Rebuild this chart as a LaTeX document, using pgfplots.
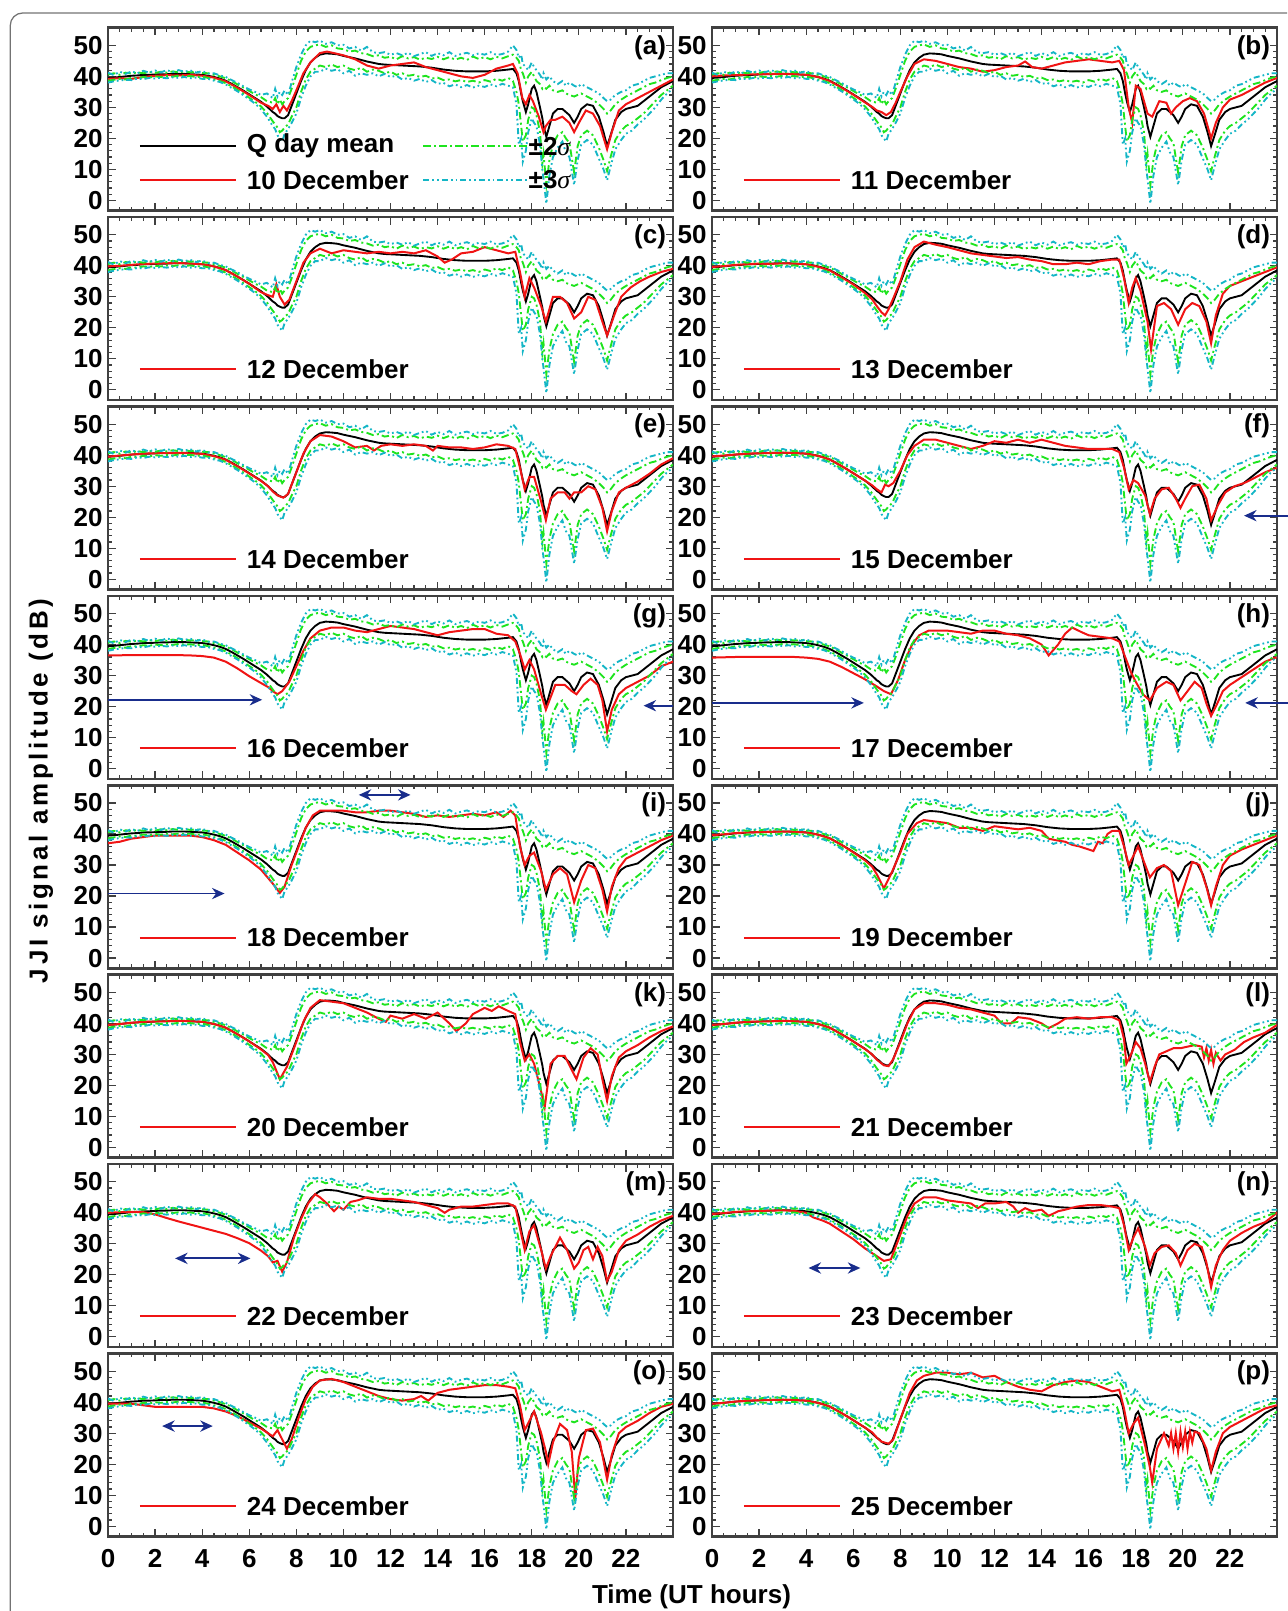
\documentclass[border=0pt]{standalone}
\usepackage{pgfplots}
\pgfplotsset{compat=1.18}
\usepackage{pgfplotstable}
\usepackage{fontspec}
\setmainfont{Liberation Sans}
\newfontfamily\sigmafont{Liberation Serif}
\newfontfamily\spacedfont{Liberation Sans}[LetterSpace=14]
\usetikzlibrary{arrows.meta}

\definecolor{dayred}{RGB}{240,20,20}
\definecolor{sdgreen}{RGB}{30,228,30}
\definecolor{sdcyan}{RGB}{20,182,198}
\definecolor{arrowblue}{RGB}{25,45,140}

% Quiet-day statistics: mean, +-2 sigma, +-3 sigma (dB) versus UT hour
\pgfplotstableread{
t     m     u2    l2    u3    l3
0.00  39.5  40.6  38.6  41.2  38.0
0.25  39.6  41.0  38.9  40.4  38.4
0.50  39.8  40.5  39.2  41.5  38.7
0.75  40.0  41.2  39.0  40.8  38.9
1.00  40.2  40.9  39.5  41.6  38.8
1.25  40.3  41.3  39.4  41.0  39.3
1.50  40.5  41.0  39.8  41.8  39.1
1.75  40.5  41.4  39.6  41.2  39.5
2.00  40.6  41.1  40.0  41.9  39.3
2.25  40.7  41.5  39.8  41.3  39.6
2.50  40.7  41.2  40.1  42.0  39.4
2.75  40.8  41.6  39.9  41.4  39.7
3.00  40.8  41.3  40.2  42.0  39.5
3.25  40.8  41.6  40.0  41.5  39.8
3.50  40.7  41.3  40.1  41.9  39.4
3.75  40.6  41.5  39.8  41.2  39.6
4.00  40.5  41.1  39.9  41.7  39.2
4.25  40.2  41.0  39.5  40.9  39.2
4.50  39.8  40.5  39.0  41.0  38.6
4.75  39.3  40.0  38.5  40.3  38.2
5.00  38.6  39.4  37.8  39.8  37.4
5.25  37.6  38.5  36.8  38.8  36.3
5.50  36.5  37.4  35.6  37.9  35.2
5.75  35.4  36.4  34.4  36.8  33.9
6.00  34.2  35.3  33.1  35.8  32.6
6.25  33.0  34.2  31.8  35.0  31.2
6.50  31.8  33.3  30.3  34.0  29.4
6.75  30.3  32.0  28.2  34.5  27.0
7.00  28.5  31.5  25.5  33.0  24.0
7.10  28.0  33.0  24.5  36.0  23.0
7.20  27.2  31.0  23.5  33.5  21.0
7.30  26.8  32.5  22.0  35.0  20.0
7.40  26.5  31.0  22.5  34.0  19.0
7.50  26.5  32.0  23.5  35.5  21.5
7.65  27.5  33.0  24.5  34.0  23.0
7.80  30.5  36.0  27.0  38.0  25.0
8.00  34.5  40.5  30.0  43.0  28.0
8.20  38.5  45.0  35.0  47.0  33.0
8.40  42.0  48.0  39.0  50.0  37.0
8.60  44.5  49.5  41.5  51.5  40.0
8.80  46.0  50.0  42.5  51.0  41.5
9.00  47.0  50.3  43.5  51.5  41.5
9.25  47.4  49.5  43.0  50.5  42.5
9.50  47.3  50.0  43.8  51.0  41.8
9.75  47.1  49.0  43.0  50.0  42.3
10.00 46.6  48.8  43.5  50.2  41.0
10.25 46.2  48.0  42.5  49.0  41.8
10.50 45.8  48.3  42.0  49.5  40.2
10.75 45.3  47.5  42.8  48.3  41.0
11.00 44.8  47.2  41.5  49.5  40.5
11.25 44.4  46.5  42.2  47.8  41.0
11.50 44.0  46.8  41.8  47.5  40.0
11.75 43.8  46.0  41.0  47.8  40.8
12.00 43.7  46.3  41.5  47.0  39.8
12.25 43.6  45.5  40.5  47.5  40.2
12.50 43.5  46.5  41.0  46.8  39.0
12.75 43.4  45.8  40.2  47.6  39.5
13.00 43.3  46.2  40.5  46.5  38.6
13.25 43.2  45.4  39.8  47.2  39.2
13.50 43.0  46.0  40.2  47.8  38.2
13.75 42.8  45.6  39.3  46.6  38.8
14.00 42.5  46.3  39.6  47.5  37.6
14.25 42.2  45.5  38.8  46.8  37.9
14.50 42.0  46.2  39.0  47.8  36.8
14.75 41.8  45.4  38.4  46.6  37.4
15.00 41.7  46.0  38.8  47.2  36.5
15.25 41.6  45.3  38.2  47.6  37.2
15.50 41.6  46.4  38.6  46.8  36.4
15.75 41.6  45.6  38.0  47.4  37.0
16.00 41.6  46.2  38.8  47.0  36.6
16.25 41.7  45.5  38.3  47.8  37.4
16.50 41.8  46.3  39.2  46.9  36.8
16.75 42.0  45.8  38.6  47.2  37.6
17.00 42.2  46.5  39.5  48.0  37.0
17.20 42.4  47.0  38.5  50.0  36.5
17.35 41.0  46.0  35.0  48.5  31.0
17.45 38.5  45.0  31.0  46.0  18.0
17.55 34.5  42.0  24.0  47.0  20.0
17.62 32.0  41.0  19.0  44.0  12.5
17.75 28.5  38.0  21.0  43.0  16.0
17.85 31.0  40.0  26.0  42.0  22.0
18.00 36.0  41.5  30.0  44.5  26.5
18.10 37.0  40.0  29.5  43.0  25.0
18.20 35.0  38.5  27.5  42.0  24.0
18.35 30.0  37.5  22.0  40.5  18.0
18.45 26.5  36.0  12.0  39.0  10.0
18.50 24.0  36.5  15.0  41.0  7.0
18.62 20.5  36.0  5.0   39.0  -1.0
18.75 24.0  37.0  13.0  40.0  8.0
18.90 28.0  35.5  18.0  38.5  14.0
19.10 29.5  35.0  21.0  37.5  17.0
19.30 29.5  35.5  22.0  38.5  19.0
19.45 28.5  34.5  20.0  37.0  15.5
19.60 27.5  34.0  18.5  38.0  14.0
19.80 25.0  33.5  9.0   37.0  5.0
19.95 27.0  34.0  17.5  36.5  13.0
20.10 29.5  34.5  21.0  37.5  18.0
20.35 31.0  33.5  22.5  36.5  19.5
20.60 30.5  32.5  21.0  35.5  18.0
20.85 27.0  31.0  17.0  34.5  13.5
21.05 22.0  29.5  13.0  33.0  10.0
21.20 17.5  28.0  9.5   32.0  6.5
21.35 21.0  29.0  14.0  32.5  11.0
21.55 26.0  31.0  19.5  34.0  16.5
21.80 28.5  32.5  22.5  35.0  19.5
22.00 29.5  33.5  24.0  35.5  21.5
22.25 30.0  34.5  25.0  37.0  22.5
22.50 30.5  35.5  26.5  37.5  24.5
22.75 32.0  36.5  28.0  38.5  26.0
23.00 33.5  37.5  30.0  39.5  28.0
23.25 35.0  38.0  32.0  40.0  30.0
23.50 36.5  38.8  34.0  40.5  32.5
23.75 37.5  39.5  35.5  41.0  34.5
24.00 38.5  40.0  37.0  41.0  36.0
}\qstats

% Daily amplitude, 10--25 December
\pgfplotstableread[row sep=\\]{t v\\ 0 39.2\\ 0.5 39.4\\ 1 39.2\\ 1.5 39.8\\ 2 40.2\\ 2.5 40.4\\ 3 40.3\\ 3.5 40.5\\ 4 40.2\\ 4.5 39.6\\ 5 38.4\\ 5.5 36.3\\ 6 34.0\\ 6.5 31.5\\ 6.8 30.5\\ 7.0 29.5\\ 7.15 31\\ 7.3 28.5\\ 7.45 30.5\\ 7.6 29\\ 7.8 32\\ 8.0 35.5\\ 8.3 41\\ 8.6 44.5\\ 9.0 47.5\\ 9.3 48\\ 9.6 47.5\\ 10 46.8\\ 10.5 45.5\\ 11 43.5\\ 11.5 42.5\\ 12 43.5\\ 12.5 44\\ 13 44.5\\ 13.5 43\\ 14 42\\ 14.5 41\\ 15 40\\ 15.5 39.5\\ 16 40.5\\ 16.5 42.5\\ 17 43.5\\ 17.2 44\\ 17.4 41\\ 17.6 33\\ 17.75 31\\ 17.9 34\\ 18.05 32\\ 18.3 27\\ 18.5 22\\ 18.6 24\\ 18.8 26\\ 19.0 26\\ 19.3 27\\ 19.6 25\\ 19.8 22\\ 20.0 25\\ 20.3 29\\ 20.6 28\\ 20.9 24\\ 21.2 16.5\\ 21.4 22\\ 21.7 29\\ 22 31\\ 22.5 33\\ 23 35\\ 23.5 37\\ 24 39\\}\redA
\pgfplotstableread[row sep=\\]{t v\\ 0 40.0\\ 0.5 40.3\\ 1 40.4\\ 1.5 40.6\\ 2 40.7\\ 2.5 40.8\\ 3 40.8\\ 3.5 40.7\\ 4 40.5\\ 4.5 39.8\\ 5 38.5\\ 5.5 36.4\\ 6 34.1\\ 6.5 31.6\\ 6.8 30.2\\ 7.0 29.0\\ 7.2 28.5\\ 7.4 27.5\\ 7.6 28.5\\ 7.8 31.5\\ 8.0 35\\ 8.3 40\\ 8.6 44\\ 9.0 45.5\\ 9.5 45\\ 10 44\\ 10.5 43\\ 11 42.5\\ 11.5 41.5\\ 12 42\\ 12.5 43\\ 13 43.5\\ 13.3 44.8\\ 13.6 43\\ 14 42.5\\ 14.5 43.5\\ 15 44.5\\ 15.5 45\\ 16 45.5\\ 16.5 45\\ 17 44.5\\ 17.3 45\\ 17.5 42\\ 17.7 30\\ 17.85 25\\ 18.0 37\\ 18.2 36\\ 18.5 28\\ 18.7 27\\ 19.0 32\\ 19.3 31.5\\ 19.5 28\\ 19.7 30\\ 20.0 32\\ 20.3 33\\ 20.6 32\\ 20.9 28\\ 21.2 20\\ 21.4 25\\ 21.7 30\\ 22 32.5\\ 22.5 34\\ 23 36\\ 23.5 38\\ 24 39.5\\}\redB
\pgfplotstableread[row sep=\\]{t v\\ 0 39.8\\ 0.5 40.0\\ 1 40.3\\ 1.5 40.6\\ 2 40.7\\ 2.5 40.8\\ 3 40.9\\ 3.5 40.7\\ 4 40.5\\ 4.5 39.8\\ 5 38.6\\ 5.5 36.5\\ 6 34.2\\ 6.5 31.5\\ 6.8 30.5\\ 7.0 30\\ 7.15 34\\ 7.3 30\\ 7.5 27.5\\ 7.7 29\\ 7.9 33\\ 8.1 37\\ 8.3 41\\ 8.6 44\\ 9.0 45.5\\ 9.5 44\\ 10 45\\ 10.5 44.5\\ 11 44\\ 11.5 44.5\\ 12 44\\ 12.5 44.5\\ 13 44\\ 13.5 45\\ 14 43\\ 14.3 41\\ 14.6 42\\ 15 44\\ 15.5 44.5\\ 16 46\\ 16.5 45\\ 17 44\\ 17.3 44.5\\ 17.5 38\\ 17.7 30\\ 17.9 36\\ 18.1 33\\ 18.4 27\\ 18.6 22\\ 18.9 30\\ 19.2 30\\ 19.5 28\\ 19.8 23\\ 20.1 25\\ 20.4 30\\ 20.7 29\\ 21.0 22\\ 21.2 17.5\\ 21.5 24\\ 21.8 30\\ 22.2 33\\ 22.6 35\\ 23 36.5\\ 23.5 38\\ 24 39\\}\redC
\pgfplotstableread[row sep=\\]{t v\\ 0 39.6\\ 0.5 39.9\\ 1 40.3\\ 1.5 40.5\\ 2 40.7\\ 2.5 40.6\\ 3 40.8\\ 3.5 40.7\\ 4 40.5\\ 4.5 39.7\\ 5 38.5\\ 5.5 36.3\\ 6 34.0\\ 6.5 31.2\\ 6.8 29.2\\ 7.0 27.0\\ 7.2 25.0\\ 7.35 24.0\\ 7.5 26.0\\ 7.7 29.5\\ 8.0 35\\ 8.3 42\\ 8.6 46\\ 9.0 47.8\\ 9.5 46.8\\ 10 46\\ 10.5 45\\ 11 44\\ 11.5 43.5\\ 12 43\\ 12.5 42.5\\ 13 42.8\\ 13.5 42\\ 14 41.5\\ 14.5 40.5\\ 15 40.5\\ 15.5 41\\ 16 40.5\\ 16.5 41.5\\ 17 42\\ 17.3 42\\ 17.5 36\\ 17.7 28\\ 17.85 33\\ 18.0 36\\ 18.2 32\\ 18.5 22\\ 18.65 13\\ 18.9 27\\ 19.2 28\\ 19.5 26\\ 19.8 21\\ 20.1 26\\ 20.4 28\\ 20.7 27\\ 21.0 22\\ 21.2 15\\ 21.4 24\\ 21.7 31\\ 22 33.5\\ 22.5 35\\ 23 36.5\\ 23.5 38\\ 24 39.5\\}\redD
\pgfplotstableread[row sep=\\]{t v\\ 0 39.5\\ 0.5 39.9\\ 1 40.2\\ 1.5 40.5\\ 2 40.6\\ 2.5 40.7\\ 3 40.7\\ 3.5 40.6\\ 4 40.4\\ 4.5 39.7\\ 5 38.5\\ 5.5 36.4\\ 6 34.1\\ 6.5 31.7\\ 6.8 30.0\\ 7.0 28.3\\ 7.2 27.0\\ 7.45 26.3\\ 7.65 27.5\\ 7.8 30.5\\ 8.0 34.5\\ 8.3 40.5\\ 8.6 44.5\\ 9.0 46.5\\ 9.5 46\\ 10 44.5\\ 10.5 42.5\\ 11 43\\ 11.3 41.5\\ 11.6 43\\ 12 43.5\\ 12.5 43\\ 13 43.5\\ 13.5 43\\ 13.8 41.5\\ 14 43\\ 14.5 42.5\\ 15 42.5\\ 15.5 42\\ 16 42.5\\ 16.5 43.5\\ 17 43\\ 17.3 42\\ 17.5 36\\ 17.7 29\\ 17.9 33\\ 18.1 33\\ 18.4 25\\ 18.6 19\\ 18.8 26\\ 19.1 28\\ 19.4 28\\ 19.6 26\\ 19.8 28\\ 20.1 28\\ 20.4 30\\ 20.7 29\\ 21.0 23\\ 21.2 15.5\\ 21.4 22\\ 21.7 28\\ 22 29.5\\ 22.5 31.5\\ 23 34\\ 23.5 37\\ 24 39\\}\redE
\pgfplotstableread[row sep=\\]{t v\\ 0 39.6\\ 0.5 39.9\\ 1 40.2\\ 1.5 40.5\\ 2 40.6\\ 2.5 40.7\\ 3 40.8\\ 3.5 40.7\\ 4 40.5\\ 4.5 39.8\\ 5 38.6\\ 5.5 36.5\\ 6 34.2\\ 6.5 31.8\\ 6.8 30.3\\ 7.0 29.0\\ 7.2 28.0\\ 7.35 30.5\\ 7.5 30\\ 7.7 31\\ 8.0 35\\ 8.3 40\\ 8.6 43\\ 9.0 45\\ 9.5 45\\ 10 44\\ 10.5 43\\ 11 42\\ 11.5 43\\ 12 44.5\\ 12.5 44\\ 13 45\\ 13.5 44\\ 14 45\\ 14.5 44\\ 15 43\\ 15.5 42.5\\ 16 42\\ 16.5 42\\ 17 42\\ 17.3 41\\ 17.5 36\\ 17.7 29\\ 17.9 32\\ 18.1 31\\ 18.4 27\\ 18.6 21\\ 18.8 26\\ 19.1 29\\ 19.4 29.5\\ 19.7 26\\ 19.9 23\\ 20.1 26\\ 20.4 30\\ 20.7 30.5\\ 21.0 26\\ 21.2 19\\ 21.5 24\\ 21.8 28\\ 22.2 30\\ 22.6 31\\ 23 32.5\\ 23.5 34.5\\ 24 36\\}\redF
\pgfplotstableread[row sep=\\]{t v\\ 0 36.5\\ 1 36.6\\ 2 36.6\\ 3 36.6\\ 3.5 36.5\\ 4 36.3\\ 4.5 35.8\\ 5 34.5\\ 5.5 32.3\\ 6 29.8\\ 6.5 27.6\\ 6.8 26.3\\ 7.0 25.0\\ 7.2 24.0\\ 7.4 25.0\\ 7.7 28\\ 8.0 33\\ 8.3 38\\ 8.6 42\\ 9.0 44.5\\ 9.5 45.5\\ 10 45.5\\ 10.5 44.5\\ 11 44\\ 11.5 45\\ 12 46\\ 12.5 45.5\\ 13 45\\ 13.5 44\\ 14 43\\ 14.5 44\\ 15 44.5\\ 15.5 45\\ 16 45\\ 16.5 43.5\\ 17 43\\ 17.3 41\\ 17.5 37\\ 17.7 32\\ 17.9 35\\ 18.1 32\\ 18.4 24\\ 18.6 19\\ 18.8 23\\ 19.0 27\\ 19.4 27\\ 19.7 25\\ 19.9 24\\ 20.2 27\\ 20.5 29\\ 20.8 27\\ 21.0 22\\ 21.2 12\\ 21.4 19\\ 21.7 24\\ 22 26\\ 22.5 28\\ 23 30\\ 23.5 33\\ 24 34.5\\}\redG
\pgfplotstableread[row sep=\\]{t v\\ 0 35.8\\ 1 36\\ 2 36\\ 3 36\\ 3.5 36\\ 4 35.8\\ 4.5 35.4\\ 5 34.5\\ 5.5 32.8\\ 6 30.8\\ 6.5 28.8\\ 7.0 26.5\\ 7.3 25.0\\ 7.6 24.0\\ 7.9 28.5\\ 8.2 35\\ 8.5 40\\ 8.8 43\\ 9.2 44.5\\ 10 44.5\\ 10.5 44\\ 11 43.5\\ 11.5 44.5\\ 12 44.5\\ 12.5 43.5\\ 13 43\\ 13.5 42\\ 14 40\\ 14.3 36.5\\ 14.7 40\\ 15 43.5\\ 15.3 45.5\\ 15.7 44\\ 16 43\\ 16.5 42.5\\ 17 42\\ 17.3 41\\ 17.5 37\\ 17.8 31\\ 18.0 28\\ 18.3 24\\ 18.6 22\\ 18.9 26\\ 19.3 28\\ 19.6 27\\ 19.9 22\\ 20.2 25\\ 20.5 28\\ 20.8 26\\ 21.0 21\\ 21.2 17\\ 21.4 20\\ 21.7 25\\ 22 27\\ 22.5 29.5\\ 23 32\\ 23.5 34.5\\ 24 36\\}\redH
\pgfplotstableread[row sep=\\]{t v\\ 0 37\\ 0.5 37.5\\ 1 38.5\\ 1.5 39\\ 2 39.5\\ 3 39.5\\ 3.5 39.5\\ 4 39\\ 4.5 38\\ 5 36.5\\ 5.5 34\\ 6 31.5\\ 6.5 28.5\\ 7.0 24\\ 7.3 21\\ 7.5 23\\ 7.8 30\\ 8.1 36\\ 8.4 42\\ 8.7 46\\ 9.0 47.5\\ 9.5 47.5\\ 10 47.5\\ 10.5 47\\ 11 47\\ 11.5 47.5\\ 12 47.5\\ 12.5 47\\ 13 46.5\\ 13.5 45.5\\ 14 46\\ 14.5 45.5\\ 15 46\\ 15.5 46.5\\ 16 46\\ 16.5 47\\ 16.8 45.5\\ 17.1 47.5\\ 17.3 46\\ 17.5 36\\ 17.7 30\\ 17.9 33\\ 18.1 34\\ 18.4 28\\ 18.6 22\\ 18.9 27\\ 19.2 29\\ 19.5 27\\ 19.8 18\\ 20.1 25\\ 20.4 30\\ 20.7 29\\ 21.0 22\\ 21.2 15\\ 21.4 23\\ 21.7 29\\ 22 32\\ 22.5 34\\ 23 36\\ 23.5 38\\ 24 39.5\\}\redI
\pgfplotstableread[row sep=\\]{t v\\ 0 39.6\\ 0.5 39.9\\ 1 40.3\\ 1.5 40.5\\ 2 40.6\\ 2.5 40.7\\ 3 40.8\\ 3.5 40.7\\ 4 40.5\\ 4.5 39.8\\ 5 38.6\\ 5.5 36.5\\ 6 34.1\\ 6.5 31.5\\ 6.8 29.5\\ 7.0 27\\ 7.3 22.5\\ 7.6 27\\ 8.0 34\\ 8.3 40\\ 8.7 43.5\\ 9 44.5\\ 9.5 44\\ 10 43.5\\ 10.5 42\\ 11 42\\ 11.5 41\\ 12 42.5\\ 12.5 42\\ 13 41.5\\ 13.5 42\\ 14 41\\ 14.3 38.5\\ 14.6 38\\ 15 37.5\\ 15.3 36.5\\ 15.6 36\\ 16 35\\ 16.2 34.5\\ 16.4 37.5\\ 16.6 37\\ 16.8 40\\ 17 41\\ 17.3 41\\ 17.5 36\\ 17.7 30\\ 17.9 33\\ 18.1 36\\ 18.4 30\\ 18.6 26\\ 18.9 29\\ 19.2 30\\ 19.5 28\\ 19.8 17\\ 20.1 24\\ 20.4 31\\ 20.7 30\\ 21.0 23\\ 21.2 17\\ 21.4 23\\ 21.7 30\\ 22 33\\ 22.5 35\\ 23 36.5\\ 23.5 38\\ 24 39.5\\}\redJ
\pgfplotstableread[row sep=\\]{t v\\ 0 39.5\\ 0.5 39.8\\ 1 40.2\\ 1.5 40.5\\ 2 40.6\\ 2.5 40.7\\ 3 40.8\\ 3.5 40.7\\ 4 40.5\\ 4.5 39.8\\ 5 38.6\\ 5.5 36.5\\ 6 34.2\\ 6.5 31.6\\ 6.8 29.8\\ 7.0 27.5\\ 7.3 22\\ 7.6 26\\ 8.0 34\\ 8.3 40.5\\ 8.6 45\\ 9 47.5\\ 9.5 47\\ 10 46.5\\ 10.5 45\\ 11 43.5\\ 11.5 41.5\\ 11.8 40.5\\ 12 42.5\\ 12.5 41.5\\ 13 43\\ 13.5 41.5\\ 14 43.5\\ 14.5 40\\ 14.8 37.5\\ 15.2 40\\ 15.5 43\\ 16 45\\ 16.3 44\\ 16.6 45.5\\ 17 44\\ 17.3 43\\ 17.5 34\\ 17.7 28\\ 17.9 30\\ 18.1 27\\ 18.4 18\\ 18.55 13\\ 18.8 27\\ 19.1 29.5\\ 19.4 29.5\\ 19.7 25\\ 19.9 22\\ 20.2 29\\ 20.5 32\\ 20.8 30\\ 21.0 22\\ 21.2 15\\ 21.4 23\\ 21.7 29\\ 22 31\\ 22.5 33\\ 23 35.5\\ 23.5 37.5\\ 24 39\\}\redK
\pgfplotstableread[row sep=\\]{t v\\ 0 39.5\\ 0.5 39.8\\ 1 40.2\\ 1.5 40.5\\ 2 40.6\\ 2.5 40.7\\ 3 40.8\\ 3.5 40.7\\ 4 40.5\\ 4.5 39.8\\ 5 38.6\\ 5.5 36.5\\ 6 34.2\\ 6.5 31.7\\ 6.8 30\\ 7.0 28.3\\ 7.3 26.5\\ 7.5 26.2\\ 7.7 28.5\\ 8.0 34\\ 8.3 40\\ 8.6 44.5\\ 9 46.5\\ 9.5 46.5\\ 10 46\\ 10.5 45\\ 11 44.5\\ 11.5 43.5\\ 12 42.5\\ 12.3 40\\ 12.7 40\\ 13 42\\ 13.5 41.5\\ 14 40\\ 14.3 38.5\\ 14.7 40\\ 15 41.5\\ 15.5 42\\ 16 41.5\\ 16.5 42\\ 17 42\\ 17.3 41\\ 17.5 35\\ 17.6 27\\ 17.8 30\\ 18.0 34\\ 18.2 32\\ 18.4 27\\ 18.6 21\\ 18.8 26\\ 19.0 30\\ 19.3 31\\ 19.6 32\\ 19.9 32\\ 20.2 32.5\\ 20.5 33\\ 20.8 32.5\\ 20.9 29\\ 21.0 32\\ 21.1 28\\ 21.2 31.5\\ 21.3 27\\ 21.4 30.5\\ 21.6 28\\ 21.8 30\\ 22.2 31.5\\ 22.6 34\\ 23 35.5\\ 23.5 37\\ 24 39.5\\}\redL
\pgfplotstableread[row sep=\\]{t v\\ 0 40\\ 0.5 40.2\\ 1 40.3\\ 1.5 40.2\\ 2 39.5\\ 2.5 38.3\\ 3 37.2\\ 3.5 36.2\\ 4 35.2\\ 4.5 34.2\\ 5 33.2\\ 5.5 31.8\\ 6 30.2\\ 6.5 27.8\\ 6.8 26\\ 7.0 24\\ 7.2 24.5\\ 7.4 21\\ 7.6 24\\ 7.9 32\\ 8.2 38\\ 8.5 43\\ 8.8 46\\ 9.0 45\\ 9.3 43\\ 9.6 40.5\\ 9.8 42\\ 10 41\\ 10.3 43.5\\ 10.6 44\\ 11 45\\ 11.5 44.5\\ 12 44.5\\ 12.5 44\\ 13 43.5\\ 13.5 42.5\\ 14 41.5\\ 14.3 40\\ 14.5 41\\ 15 42\\ 15.5 42\\ 16 42.5\\ 16.5 43\\ 17 43\\ 17.3 42\\ 17.5 35\\ 17.7 28\\ 17.9 34\\ 18.1 36\\ 18.4 28\\ 18.6 22\\ 18.8 26\\ 19.0 29\\ 19.2 32\\ 19.5 28\\ 19.8 22\\ 20.0 24\\ 20.2 28\\ 20.4 29\\ 20.6 25\\ 20.8 29\\ 21.0 26\\ 21.2 18\\ 21.4 21\\ 21.7 28\\ 22 31\\ 22.5 33\\ 23 35.5\\ 23.5 37.5\\ 24 39\\}\redM
\pgfplotstableread[row sep=\\]{t v\\ 0 39.6\\ 0.5 39.9\\ 1 40.3\\ 1.5 40.5\\ 2 40.6\\ 2.5 40.7\\ 3 40.8\\ 3.5 40.6\\ 4 40\\ 4.3 38.5\\ 4.7 37.5\\ 5 36.5\\ 5.5 34\\ 6 31.5\\ 6.5 28.5\\ 7.0 26\\ 7.3 24.5\\ 7.6 25\\ 8 33\\ 8.3 39\\ 8.6 43\\ 9 45\\ 9.5 45\\ 10 44\\ 10.5 43.5\\ 11 43\\ 11.3 41.5\\ 11.6 43\\ 12 43\\ 12.5 43.5\\ 12.8 42\\ 13 40\\ 13.3 41.5\\ 13.6 40.5\\ 14 41\\ 14.3 39\\ 14.7 40.5\\ 15 41\\ 15.5 42\\ 16 42.5\\ 16.5 42.5\\ 17 42\\ 17.3 41.5\\ 17.5 36\\ 17.7 28\\ 17.9 32\\ 18.1 35\\ 18.4 29\\ 18.6 23\\ 18.8 27\\ 19.1 29\\ 19.4 29.5\\ 19.7 27\\ 19.9 23\\ 20.2 28\\ 20.5 30\\ 20.8 29\\ 21.0 24\\ 21.2 16\\ 21.4 23\\ 21.7 28\\ 22 31\\ 22.5 33.5\\ 23 35.5\\ 23.5 37\\ 24 40\\}\redN
\pgfplotstableread[row sep=\\]{t v\\ 0 39.5\\ 1 39.5\\ 1.5 39\\ 2 38.5\\ 2.5 38.5\\ 3 38.5\\ 3.5 38.5\\ 4 38.5\\ 4.5 38\\ 5 37\\ 5.5 35.5\\ 6 33.5\\ 6.5 31.5\\ 6.8 30\\ 7.0 29\\ 7.2 31\\ 7.4 28\\ 7.6 25\\ 7.8 28\\ 8.1 35\\ 8.4 41\\ 8.7 45\\ 9.0 47\\ 9.5 47.5\\ 10 46.5\\ 10.5 45\\ 11 43.5\\ 11.5 42\\ 12 41\\ 12.5 40.5\\ 13 41\\ 13.3 42\\ 13.6 40.5\\ 14 43\\ 14.5 44\\ 15 44.5\\ 15.5 45\\ 16 45.5\\ 16.5 45.5\\ 17 45\\ 17.3 44.5\\ 17.5 39\\ 17.7 31\\ 17.9 34\\ 18.1 37\\ 18.4 30\\ 18.6 24\\ 18.7 20\\ 18.9 27\\ 19.2 33\\ 19.5 31\\ 19.7 24\\ 19.85 9\\ 20.0 22\\ 20.3 31\\ 20.6 31.5\\ 20.9 27\\ 21.2 15\\ 21.4 23\\ 21.7 30\\ 22 32\\ 22.5 34\\ 23 36.5\\ 23.5 38.5\\ 24 39.5\\}\redO
\pgfplotstableread[row sep=\\]{t v\\ 0 39.5\\ 0.5 39.8\\ 1 40.2\\ 1.5 40.5\\ 2 40.6\\ 2.5 40.7\\ 3 40.8\\ 3.5 40.7\\ 4 40.5\\ 4.5 39.8\\ 5 38.6\\ 5.5 36.5\\ 6 34.2\\ 6.5 31.8\\ 6.8 30.3\\ 7.0 28.6\\ 7.2 27.3\\ 7.5 26.6\\ 7.7 28\\ 8.0 34.5\\ 8.4 43\\ 8.7 47\\ 9 48.5\\ 9.5 49.5\\ 10 49.5\\ 10.5 49\\ 11 49.5\\ 11.5 48\\ 12 48.5\\ 12.5 46.5\\ 13 45\\ 13.5 44\\ 14 43.5\\ 14.5 45.5\\ 15 46.5\\ 15.5 47\\ 16 46.5\\ 16.5 45\\ 17 43.5\\ 17.3 44\\ 17.5 38\\ 17.7 30\\ 17.9 33\\ 18.1 35\\ 18.4 26\\ 18.6 19\\ 18.7 14\\ 18.9 25\\ 19.2 30\\ 19.4 26\\ 19.5 30\\ 19.6 25\\ 19.7 30\\ 19.8 24\\ 19.9 30.5\\ 20.0 25.5\\ 20.1 30.5\\ 20.2 25\\ 20.3 30.5\\ 20.4 27\\ 20.5 30.5\\ 20.7 30\\ 21.0 25\\ 21.2 18\\ 21.4 24\\ 21.7 30\\ 22 32\\ 22.5 34\\ 23 36\\ 23.5 38\\ 24 39\\}\redP

\tikzset{
  mean line/.style={black, line width=0.75pt},
  day line/.style={dayred, line width=0.8pt},
  green line/.style={sdgreen, line width=0.75pt, dash pattern=on 3pt off 1.3pt on 0.8pt off 1.3pt},
  cyan line/.style={sdcyan, line width=0.75pt, dash pattern=on 2.4pt off 1.2pt on 0.7pt off 1.2pt on 0.7pt off 1.2pt},
  arr/.style={arrowblue, line width=0.75pt, -{Stealth[length=5pt,width=4.5pt]}},
  darr/.style={arrowblue, line width=0.75pt, {Stealth[length=5pt,width=4.5pt]}-{Stealth[length=5pt,width=4.5pt]}},
}

\pgfplotsset{
  panel/.style={
    anchor=north west, scale only axis,
    width=226pt, height=73.2pt,
    xmin=0, xmax=24, ymin=-3.3, ymax=55.7,
    xtick={0,2,...,24}, ytick={0,10,...,50},
    minor x tick num=3, minor y tick num=4,
    tick align=inside, tick pos=both,
    major tick length=3pt, minor tick length=1.6pt,
    axis line style={line width=1.1pt, black!75},
    tick style={line width=0.5pt, black!75},
    xticklabels={},
    /pgf/number format/assume math mode=true,
    tick label style={font=\fontsize{10.4}{12.5}\selectfont\bfseries},
    yticklabel style={inner xsep=2pt},
    xticklabel style={inner ysep=5pt},
    clip mode=individual,
  },
  bottom row/.style={xticklabels={0,2,4,6,8,10,12,14,16,18,20,22,{}}},
}

% One panel: [extra options]{position}{letter}{day}{table}{annotations}
\newcommand{\panel}[6][]{%
  \begin{axis}[panel, at={(#2)}, #1]
    \addplot[mean line] table[x=t,y=m]{\qstats};
    \addplot[day line] table[x=t,y=v]{#5};
    \addplot[green line] table[x=t,y=u2]{\qstats};
    \addplot[green line] table[x=t,y=l2]{\qstats};
    \addplot[cyan line] table[x=t,y=u3]{\qstats};
    \addplot[cyan line] table[x=t,y=l3]{\qstats};
    \node[anchor=north east, inner sep=0pt, xshift=-2.6pt, yshift=-2.8pt] at (rel axis cs:1,1) {(#3)};
    \draw[day line] (axis cs:1.35,6.6) -- (axis cs:5.45,6.6);
    \node[anchor=west, inner sep=0pt] at (axis cs:5.88,6.6) {#4 December};
    #6
  \end{axis}}

\begin{document}
\begin{tikzpicture}[font=\fontsize{10.4}{12.5}\selectfont\bfseries]
\useasboundingbox (0,0) rectangle (514.8pt,644.4pt);
\begin{scope}
  \clip (0,0) rectangle (514.8pt,644.4pt);
  \draw[rounded corners=5pt, black!55, line width=0.5pt] (4.1pt,-20pt) rectangle (540pt,639.2pt);
\end{scope}

\panel{43.2pt,633.32pt}{a}{10}{\redA}{%
  \draw[mean line] (axis cs:1.35,17.5) -- (axis cs:5.45,17.5);
  \node[anchor=west, inner sep=0pt] at (axis cs:5.88,17.5) {Q day mean};
  \draw[green line] (axis cs:13.4,17.5) -- (axis cs:17.8,17.5);
  \node[anchor=west, inner sep=0pt] at (axis cs:17.85,17.5) {±2{\sigmafont\mdseries\itshape σ}};
  \draw[cyan line] (axis cs:13.4,6.6) -- (axis cs:17.8,6.6);
  \node[anchor=west, inner sep=0pt] at (axis cs:17.85,6.6) {±3{\sigmafont\mdseries\itshape σ}};}
\panel{284.8pt,633.32pt}{b}{11}{\redB}{}
\panel{43.2pt,557.56pt}{c}{12}{\redC}{}
\panel{284.8pt,557.56pt}{d}{13}{\redD}{}
\panel{43.2pt,481.8pt}{e}{14}{\redE}{}
\panel{284.8pt,481.8pt}{f}{15}{\redF}{%
  \draw[arr] (axis cs:24.45,20.5) -- (axis cs:22.6,20.5);}
\panel{43.2pt,406.04pt}{g}{16}{\redG}{%
  \draw[arr] (axis cs:0,22.2) -- (axis cs:6.55,22.2);
  \draw[arr] (axis cs:24,20.3) -- (axis cs:22.75,20.3);}
\panel{284.8pt,406.04pt}{h}{17}{\redH}{%
  \draw[arr] (axis cs:0,21.2) -- (axis cs:6.45,21.2);
  \draw[arr] (axis cs:24.45,21.2) -- (axis cs:22.65,21.2);}
\panel{43.2pt,330.28pt}{i}{18}{\redI}{%
  \draw[darr] (axis cs:10.65,52.6) -- (axis cs:12.85,52.6);
  \draw[arr] (axis cs:0,20.8) -- (axis cs:4.95,20.8);}
\panel{284.8pt,330.28pt}{j}{19}{\redJ}{}
\panel{43.2pt,254.52pt}{k}{20}{\redK}{}
\panel{284.8pt,254.52pt}{l}{21}{\redL}{}
\panel{43.2pt,178.76pt}{m}{22}{\redM}{%
  \draw[darr] (axis cs:2.85,25.3) -- (axis cs:6.05,25.3);}
\panel{284.8pt,178.76pt}{n}{23}{\redN}{%
  \draw[darr] (axis cs:4.1,22.2) -- (axis cs:6.3,22.2);}
\panel[bottom row]{43.2pt,103pt}{o}{24}{\redO}{%
  \draw[darr] (axis cs:2.3,32.3) -- (axis cs:4.45,32.3);}
\panel[bottom row]{284.8pt,103pt}{p}{25}{\redP}{}

\node[rotate=90] at (16.4pt,328pt) {\spacedfont JJI signal amplitude (dB)};
\node at (276.6pt,5.6pt) {Time (UT hours)};
\end{tikzpicture}
\end{document}
